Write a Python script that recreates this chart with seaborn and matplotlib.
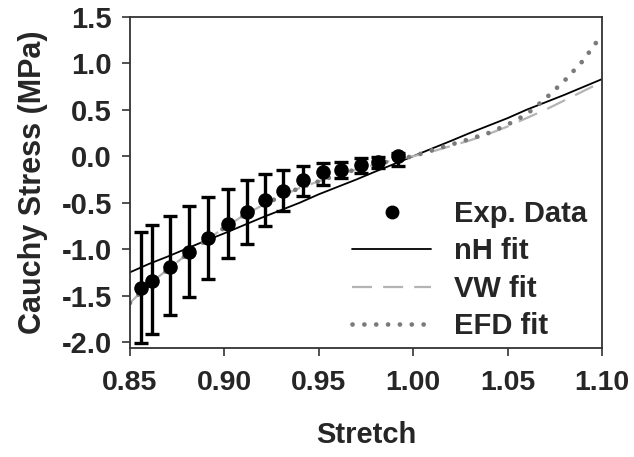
import matplotlib
matplotlib.use("Agg")
import matplotlib.pyplot as plt
import seaborn as sns
from matplotlib.lines import Line2D
from matplotlib.ticker import FormatStrFormatter

# experimental points (mean with upper / lower ends of the error bars)
stretch = [0.8557, 0.8618, 0.8712, 0.8813, 0.8915, 0.9017, 0.9118, 0.9215,
           0.9312, 0.9415, 0.9521, 0.9616, 0.9722, 0.9815, 0.9921]
stress = [-1.42, -1.34, -1.19, -1.035, -0.88, -0.73, -0.605, -0.47,
          -0.37, -0.26, -0.175, -0.145, -0.095, -0.06, 0.0]
stress_hi = [-0.82, -0.745, -0.64, -0.54, -0.436, -0.35, -0.26, -0.19,
             -0.153, -0.10, -0.07, -0.065, -0.02, -0.01, 0.04]
stress_lo = [-2.01, -1.914, -1.713, -1.52, -1.322, -1.10, -0.942, -0.756,
             -0.594, -0.43, -0.31, -0.23, -0.18, -0.13, -0.11]

# fitted curves
fit_x = [0.85, 0.86, 0.87, 0.88, 0.89, 0.90, 0.91, 0.92, 0.93, 0.94, 0.95, 0.96, 0.97,
         0.98, 0.99, 1.00, 1.01, 1.02, 1.03, 1.04, 1.05, 1.06, 1.07, 1.08, 1.09, 1.10]
nh_fit = [-1.25, -1.16, -1.08, -0.995, -0.91, -0.83, -0.745, -0.66, -0.58, -0.50, -0.41,
          -0.33, -0.25, -0.165, -0.083, 0.0, 0.083, 0.165, 0.25, 0.33, 0.41, 0.50,
          0.58, 0.66, 0.745, 0.83]
vw_fit = [-1.58, -1.38, -1.22, -1.06, -0.91, -0.77, -0.64, -0.53, -0.43, -0.34, -0.27,
          -0.20, -0.14, -0.09, -0.04, 0.0, 0.05, 0.11, 0.17, 0.24, 0.32, 0.41, 0.50,
          0.60, 0.70, 0.80]
efd_fit = [-1.58, -1.38, -1.22, -1.06, -0.91, -0.77, -0.64, -0.53, -0.43, -0.34, -0.27,
           -0.20, -0.14, -0.09, -0.04, 0.0, 0.065, 0.125, 0.185, 0.25, 0.34, 0.45,
           0.62, 0.81, 1.03, 1.31]

x_ticks = [0.85, 0.90, 0.95, 1.00, 1.05, 1.10]
y_ticks = [-2.0, -1.5, -1.0, -0.5, 0.0, 0.5, 1.0, 1.5]

sns.set_style("ticks")
plt.rcParams["font.family"] = ["Liberation Sans", "DejaVu Sans"]
plt.rcParams["font.weight"] = "bold"
plt.rcParams["axes.unicode_minus"] = False

fig = plt.figure(figsize=(6.34, 4.57), dpi=100)
ax = fig.add_axes([0.205, 0.2385, 0.7445, 0.7245])

dot_col = "#7a7a7a"
dash_col = "#b4b4b4"
dot_style = (0, (0.01, 2.5))

sns.lineplot(x=fit_x, y=nh_fit, ax=ax, color="black", linewidth=1.3,
             estimator=None, sort=False)
sns.lineplot(x=fit_x, y=vw_fit, ax=ax, color=dash_col, linewidth=1.6,
             estimator=None, sort=False, dashes=False)
ax.lines[-1].set_dashes([9, 5])
sns.lineplot(x=fit_x, y=efd_fit, ax=ax, color=dot_col, linewidth=3.4,
             estimator=None, sort=False)
ax.lines[-1].set_linestyle(dot_style)
ax.lines[-1].set_dash_capstyle("round")

err = [[s - lo for s, lo in zip(stress, stress_lo)],
       [hi - s for s, hi in zip(stress, stress_hi)]]
ax.errorbar(stretch, stress, yerr=err, fmt="none", ecolor="black",
            elinewidth=2.4, capsize=5, capthick=2.4, zorder=3)
sns.scatterplot(x=stretch, y=stress, ax=ax, color="black", s=110,
                edgecolor="black", linewidth=0, zorder=4)

ax.set_xlim(0.85, 1.10)
ax.set_ylim(-2.065, 1.5)
ax.set_xticks(x_ticks)
ax.set_yticks(y_ticks)
ax.xaxis.set_major_formatter(FormatStrFormatter("%.2f"))
ax.yaxis.set_major_formatter(FormatStrFormatter("%.1f"))
ax.tick_params(direction="out", length=6, width=1.2, color="#333333",
               labelsize=21, pad=7)
ax.tick_params(axis="x", labelsize=20.5, pad=10)
for sp in ax.spines.values():
    sp.set_visible(True)
    sp.set_color("#333333")
    sp.set_linewidth(1.3)

ax.set_xlabel("Stretch", fontsize=21, fontweight="bold", labelpad=18)
ax.set_ylabel("Cauchy Stress (MPa)", fontsize=22, fontweight="bold", labelpad=10)

handles = [
    Line2D([], [], linestyle="none", marker="o", markersize=9, color="black"),
    Line2D([], [], color="black", linewidth=1.3),
    Line2D([], [], color=dash_col, linewidth=1.6, dashes=[9, 5]),
    Line2D([], [], color=dot_col, linewidth=3.4, linestyle=dot_style,
           dash_capstyle="round"),
]
labels = ["Exp. Data", "nH fit", "VW fit", "EFD fit"]
ax.legend(handles, labels, loc="lower right", frameon=False,
          prop={"weight": "bold", "size": 21}, handlelength=2.7,
          labelspacing=0.32, handletextpad=0.8, borderaxespad=0.1,
          bbox_to_anchor=(1.0, -0.02))

fig.savefig("out.png", dpi=100)
